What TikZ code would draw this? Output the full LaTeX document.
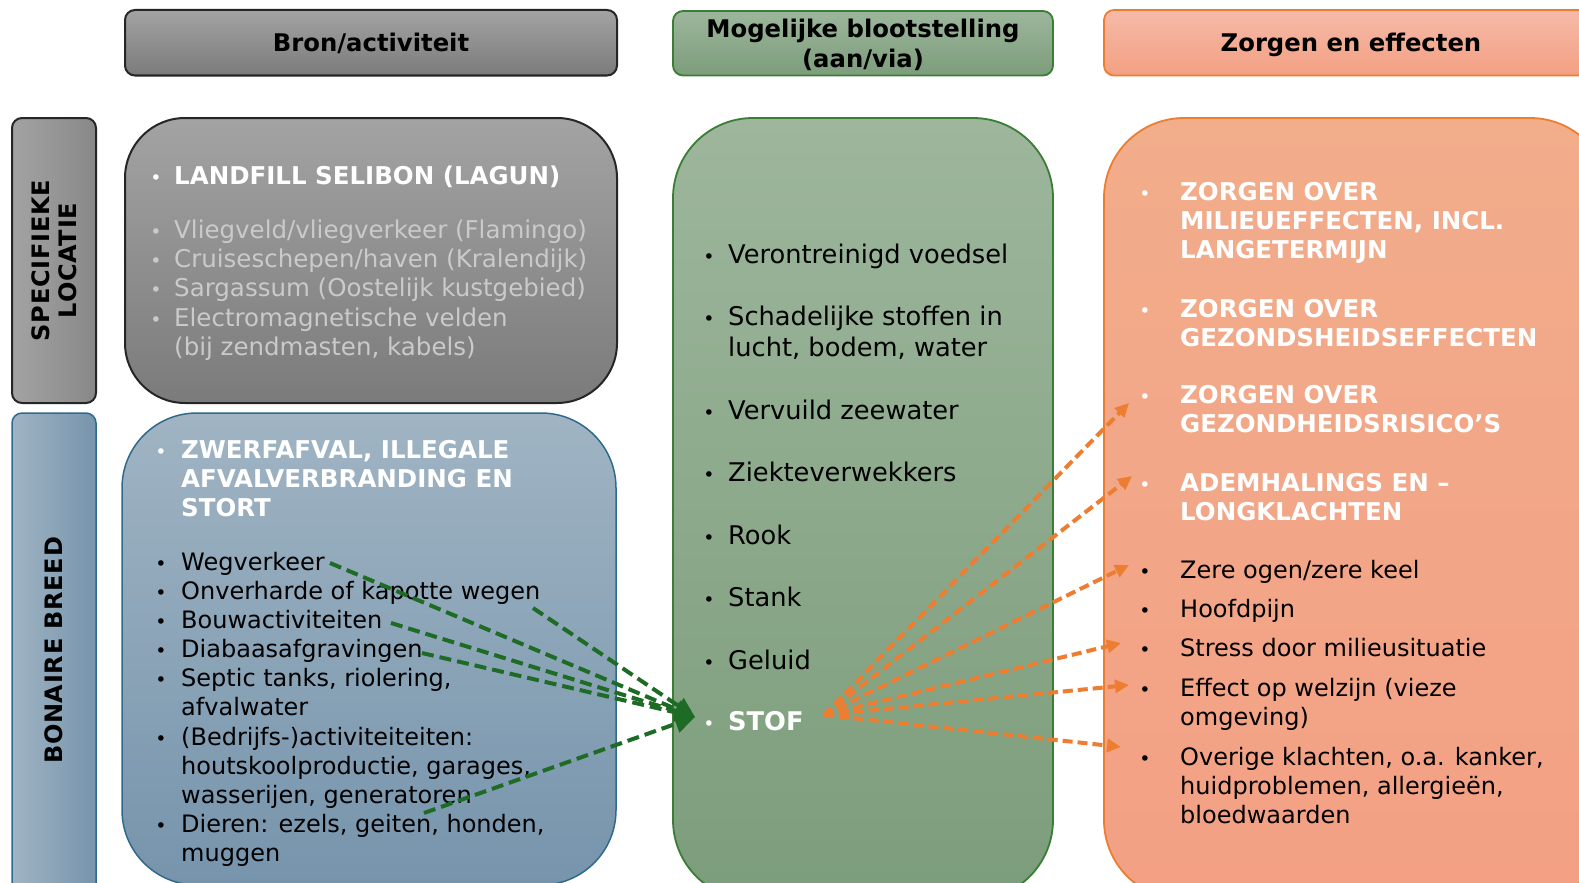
\documentclass[tikz,border=0pt]{standalone}
\usepackage{fontspec}
\setmainfont{DejaVu Sans}
\usetikzlibrary{arrows.meta}
\definecolor{grayT}{HTML}{A3A3A3}
\definecolor{grayB}{HTML}{7B7B7B}
\definecolor{grayLine}{HTML}{262626}
\definecolor{blueT}{HTML}{A0B4C3}
\definecolor{blueB}{HTML}{7694AC}
\definecolor{blueLine}{HTML}{2F6A8D}
\definecolor{greenT}{HTML}{9DB69C}
\definecolor{greenB}{HTML}{7C9D7B}
\definecolor{greenLine}{HTML}{3A7D34}
\definecolor{orT}{HTML}{F2AD8B}
\definecolor{orB}{HTML}{F3A084}
\definecolor{orHT}{HTML}{F5BAA8}
\definecolor{orHB}{HTML}{F3A082}
\definecolor{orLine}{HTML}{ED7D31}
\definecolor{lightTxt}{HTML}{CACACA}
\definecolor{arrGreen}{HTML}{1E6B26}
\definecolor{arrOrange}{HTML}{ED7D31}
\newcommand\twoln[2]{\vtop{\hbox{#1}\hbox{#2}}}
\newcommand\threeln[3]{\vtop{\hbox{#1}\hbox{#2}\hbox{#3}}}
\begin{document}
\begin{tikzpicture}[x=1pt,y={(0pt,-1pt)},
  txt/.style={anchor=base west,inner sep=0pt,font=\fontsize{24}{29.2}\selectfont},
  ltxt/.style={txt,font=\fontsize{24.5}{29.2}\selectfont,text=lightTxt},
  btxt/.style={txt,font=\bfseries\fontsize{24.5}{29.2}\selectfont,text=white},
  gtxt/.style={txt,font=\fontsize{25.7}{31.3}\selectfont},
  bul/.style={anchor=base,inner sep=0pt,font=\fontsize{19}{24}\selectfont},
  hdr/.style={anchor=base,inner sep=0pt,align=center,font=\bfseries\fontsize{24.3}{29.2}\selectfont},
  side/.style={rotate=90,inner sep=0pt,align=center,font=\bfseries\fontsize{24}{27}\selectfont\addfontfeature{LetterSpace=3}},
  garrow/.style={draw=arrGreen,line width=4pt,dash pattern=on 12pt off 6pt,-{Triangle[length=20pt,width=18pt]}},
  oarrow/.style={draw=arrOrange,line width=4pt,dash pattern=on 10pt off 5pt,-{Triangle[length=14pt,width=13pt]}},
]
\useasboundingbox (0,0) rectangle (1579,883);
\clip (0,0) rectangle (1579,883);
\fill[white] (0,0) rectangle (1579,883);

% header boxes
\draw[draw=grayLine,line width=2pt,rounded corners=10pt,top color=grayT,bottom color=grayB] (125,10) rectangle (617,75.5);
\draw[draw=greenLine,line width=1.8pt,rounded corners=10pt,top color=greenT,bottom color=greenB] (673,11) rectangle (1053,75.5);
\draw[draw=orLine,line width=1.8pt,rounded corners=10pt,top color=orHT,bottom color=orHB] (1104,10) rectangle (1610,75.5);

% side boxes
\draw[draw=grayLine,line width=2pt,rounded corners=10pt,left color=grayT,right color=grayB!90] (12,118) rectangle (96,403);
\draw[draw=blueLine,line width=1.5pt,rounded corners=10pt,left color=blueT,right color=blueB] (12,413) rectangle (96,900);

% main boxes
\draw[draw=grayLine,line width=2pt,rounded corners=60pt,top color=grayT,bottom color=grayB] (125,118) rectangle (617,403);
\draw[draw=blueLine,line width=1.5pt,rounded corners=75pt,top color=blueT,bottom color=blueB] (122,413) rectangle (616,885);
\draw[draw=greenLine,line width=1.8pt,rounded corners=80pt,top color=greenT,bottom color=greenB] (673,118) rectangle (1053,900);
\draw[draw=orLine,line width=1.8pt,rounded corners=80pt,top color=orT,bottom color=orB] (1104,118) rectangle (1610,900);

% headers
\node[hdr] (h1) at (371,52) {Bron/activiteit};
\node[hdr] (h2) at (863,67) {Mogelijke blootstelling\\(aan/via)};
\node[hdr] (h3) at (1351,52) {Zorgen en effecten};

% side labels
\node[side] (s1) at (54,260.5) {SPECIFIEKE\\LOCATIE};
\node[side] (s2) at (54,650.5) {BONAIRE BREED};

% gray box
\node[bul,text=white] (gb1) at (156,184) {•};
\node[btxt] (gt1) at (174,184) {LANDFILL SELIBON (LAGUN)};
\node[bul,text=lightTxt] (gb2) at (156,238) {•};
\node[ltxt] (gt2) at (174,238) {Vliegveld/vliegverkeer (Flamingo)};
\node[bul,text=lightTxt] (gb3) at (156,267) {•};
\node[ltxt] (gt3) at (174,267) {Cruiseschepen/haven (Kralendijk)};
\node[bul,text=lightTxt] (gb4) at (156,296) {•};
\node[ltxt] (gt4) at (174,296) {Sargassum (Oostelijk kustgebied)};
\node[bul,text=lightTxt] (gb5) at (156,326) {•};
\node[ltxt] (gt5) at (174,326) {\twoln{Electromagnetische velden}{(bij zendmasten, kabels)}};

% blue box
\node[bul,text=white] (bb0) at (161,458) {•};
\node[btxt] (bt0) at (181,458) {\threeln{ZWERFAFVAL, ILLEGALE}{AFVALVERBRANDING EN}{STORT}};
\node[bul] (bb1) at (161,570) {•};
\node[txt] (bt1) at (181,570) {Wegverkeer};
\node[bul] (bb2) at (161,599) {•};
\node[txt] (bt2) at (181,599) {Onverharde of kapotte wegen};
\node[bul] (bb3) at (161,628) {•};
\node[txt] (bt3) at (181,628) {Bouwactiviteiten};
\node[bul] (bb4) at (161,657) {•};
\node[txt] (bt4) at (181,657) {Diabaasafgravingen};
\node[bul] (bb5) at (161,686.5) {•};
\node[txt] (bt5) at (181,686.5) {\twoln{Septic tanks, riolering,}{afvalwater}};
\node[bul] (bb6) at (161,745) {•};
\node[txt] (bt6) at (181,745) {\threeln{(Bedrijfs-)activiteiteiten:}{houtskoolproductie, garages,}{wasserijen, generatoren}};
\node[bul] (bb7) at (161,832.5) {•};
\node[txt] (bt7) at (181,832.5) {\twoln{Dieren: ezels, geiten, honden,}{muggen}};

% green box
\node[bul] (eb1) at (709,263) {•};
\node[gtxt] (et1) at (728,263) {Verontreinigd voedsel};
\node[bul] (eb2) at (709,325.5) {•};
\node[gtxt] (et2) at (728,325.5) {\twoln{Schadelijke stoffen in}{lucht, bodem, water}};
\node[bul] (eb3) at (709,419) {•};
\node[gtxt] (et3) at (728,419) {Vervuild zeewater};
\node[bul] (eb4) at (709,481.5) {•};
\node[gtxt] (et4) at (728,481.5) {Ziekteverwekkers};
\node[bul] (eb5) at (709,544) {•};
\node[gtxt] (et5) at (728,544) {Rook};
\node[bul] (eb6) at (709,606.5) {•};
\node[gtxt] (et6) at (728,606.5) {Stank};
\node[bul] (eb7) at (709,669) {•};
\node[gtxt] (et7) at (728,669) {Geluid};
\node[bul,text=white] (eb8) at (709,730) {•};
\node[gtxt,font=\bfseries\fontsize{25.7}{31.3}\selectfont,text=white] (et8) at (728,730) {STOF};

% orange box
\node[bul,text=white] (ob1) at (1145,200) {•};
\node[btxt] (ot1) at (1180,200) {\threeln{ZORGEN OVER}{MILIEUEFFECTEN, INCL.}{LANGETERMIJN}};
\node[bul,text=white] (ob2) at (1145,317) {•};
\node[btxt] (ot2) at (1180,317) {\twoln{ZORGEN OVER}{GEZONDSHEIDSEFFECTEN}};
\node[bul,text=white] (ob3) at (1145,403.5) {•};
\node[btxt] (ot3) at (1180,403.5) {\twoln{ZORGEN OVER}{GEZONDHEIDSRISICO’S}};
\node[bul,text=white] (ob4) at (1145,491) {•};
\node[btxt] (ot4) at (1180,491) {\twoln{ADEMHALINGS EN –}{LONGKLACHTEN}};
\node[bul] (ob5) at (1145,578) {•};
\node[txt] (ot5) at (1180,578) {Zere ogen/zere keel};
\node[bul] (ob6) at (1145,617) {•};
\node[txt] (ot6) at (1180,617) {Hoofdpijn};
\node[bul] (ob7) at (1145,656.5) {•};
\node[txt] (ot7) at (1180,656.5) {Stress door milieusituatie};
\node[bul] (ob8) at (1145,696.5) {•};
\node[txt] (ot8) at (1180,696.5) {\twoln{Effect op welzijn (vieze}{omgeving)}};
\node[bul] (ob9) at (1145,765) {•};
\node[txt] (ot9) at (1180,765) {\threeln{Overige klachten, o.a. kanker,}{huidproblemen, allergieën,}{bloedwaarden}};

% arrow end points
\coordinate (gsA) at (330,563);
\coordinate (gsB) at (533,608);
\coordinate (gsC) at (391,623);
\coordinate (gsD) at (422,653);
\coordinate (gsE) at (424,813);
\coordinate (gTip) at (695,717);
\coordinate (oS) at (824,715);
\coordinate (oT1) at (1129,403);
\coordinate (oT2) at (1132,476);
\coordinate (oT3) at (1129,565);
\coordinate (oT4) at (1121,643);
\coordinate (oT5) at (1129,685);
\coordinate (oT6) at (1121,747);

\foreach \s in {gsA,gsB,gsC,gsD,gsE} \draw[garrow] (\s) -- (gTip);
\foreach \t in {oT1,oT2,oT3,oT4,oT5,oT6} \draw[oarrow] (oS) -- (\t);
\end{tikzpicture}
\end{document}
